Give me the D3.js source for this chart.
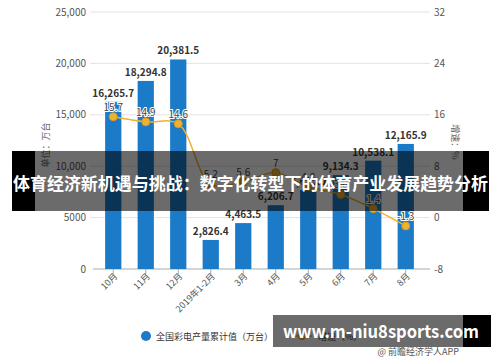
<!DOCTYPE html>
<html>
<head>
<meta charset="utf-8">
<script src="https://cdn.jsdelivr.net/npm/d3@7"></script>
<style>
  body { margin: 0; background: #fff; }
  text { font-family: "Noto Sans CJK SC", "Noto Sans", sans-serif; }
</style>
</head>
<body>
<div id="chart"></div>
<script>
// data
const months = ["10月", "11月", "12月", "2019年1-2月", "3月", "4月", "5月", "6月", "7月", "8月"]
const output = [16265.7, 18294.8, 20381.5, 2826.4, 4463.5, 6206.7, 7690.0, 9134.3, 10538.1, 12165.9]
const growth = [15.7, 14.9, 14.6, 5.2, 5.6, 7, 4.8, 3.6, 1.4, -1.3]
const leftTicks = [0, 5000, 10000, 15000, 20000, 25000]
const rightTicks = [-8, 0, 8, 16, 24, 32]
const leftTickLabels = ["0", "5000", "10,000", "15,000", "20,000", "25,000"]

const W = 500, H = 362
const plot = { left: 97, right: 422, top: 12, bottom: 269 }

const svg = d3.select("#chart")
  .append("svg")
    .attr("width", W)
    .attr("height", H)

const x = d3.scaleBand()
  .domain(months)
  .range([plot.left, plot.right])
  .paddingInner(0.5)
  .paddingOuter(0.25)

const yL = d3.scaleLinear().domain([0, 25000]).range([plot.bottom, plot.top])
const yR = d3.scaleLinear().domain([-8, 32]).range([plot.bottom, plot.top])

// grid lines
svg.append("g")
  .selectAll("line")
  .data(leftTicks.slice(1))
  .join("line")
    .attr("x1", 90).attr("x2", 430)
    .attr("y1", d => yL(d)).attr("y2", d => yL(d))
    .attr("stroke", "#e3e3e3")

// left labels
svg.append("g")
  .selectAll("text")
  .data(leftTicks)
  .join("text")
    .attr("x", 86)
    .attr("y", d => yL(d) + 3.5)
    .attr("text-anchor", "end")
    .attr("font-size", 10)
    .attr("fill", "#555")
    .text((d, i) => leftTickLabels[i])

// right labels
svg.append("g")
  .selectAll("text")
  .data(rightTicks)
  .join("text")
    .attr("x", 434)
    .attr("y", d => yR(d) + 3.5)
    .attr("font-size", 10)
    .attr("fill", "#555")
    .text(d => d)

// x axis
const xAxis = svg.append("g")
  .attr("transform", `translate(0,${plot.bottom})`)
  .call(d3.axisBottom(x).tickSize(5).tickSizeOuter(0))
xAxis.select(".domain").attr("stroke", "#aaa").attr("d", `M${plot.left - 4},0H430`)
xAxis.selectAll(".tick line").attr("stroke", "#aaa")
xAxis.selectAll("text")
  .attr("font-size", 9)
  .attr("fill", "#555")
  .attr("font-family", "Noto Sans CJK SC")
  .attr("dy", 0)
  .attr("x", -2)
  .attr("y", 9)
  .attr("transform", "rotate(-45)")
  .style("text-anchor", "end")

// axis titles
svg.append("text")
  .attr("transform", "translate(49,145) rotate(-90)")
  .attr("text-anchor", "middle")
  .attr("font-size", 9)
  .attr("fill", "#666")
  .text("单位：万台")
svg.append("text")
  .attr("transform", "translate(452,142) rotate(90)")
  .attr("text-anchor", "middle")
  .attr("font-size", 9)
  .attr("fill", "#666")
  .text("增速：%")

// bars
svg.append("g")
  .selectAll("rect")
  .data(output)
  .join("rect")
    .attr("x", (d, i) => x(months[i]))
    .attr("y", d => yL(d))
    .attr("width", x.bandwidth())
    .attr("height", d => plot.bottom - yL(d))
    .attr("fill", "#1b7bc8")

svg.append("g")
  .selectAll("text")
  .data(output)
  .join("text")
    .attr("x", (d, i) => x(months[i]) + x.bandwidth() / 2)
    .attr("y", d => yL(d) - 5)
    .attr("text-anchor", "middle")
    .attr("font-size", 10)
    .attr("font-weight", "bold")
    .attr("fill", "#333")
    .text(d => d3.format(",.1f")(d))

// growth line
const line = d3.line()
  .x((d, i) => x(months[i]) + x.bandwidth() / 2)
  .y(d => yR(d))
  .curve(d3.curveCatmullRom.alpha(0.5))

svg.append("path")
  .datum(growth)
  .attr("d", line)
  .attr("fill", "none")
  .attr("stroke", "#f0b030")
  .attr("stroke-width", 1.5)

svg.append("g")
  .selectAll("circle")
  .data(growth)
  .join("circle")
    .attr("cx", (d, i) => x(months[i]) + x.bandwidth() / 2)
    .attr("cy", d => yR(d))
    .attr("r", 4)
    .attr("fill", "#f0b030")
    .attr("stroke", "#d99a1a")

svg.append("g")
  .selectAll("text")
  .data(growth)
  .join("text")
    .attr("x", (d, i) => x(months[i]) + x.bandwidth() / 2)
    .attr("y", d => yR(d) - 6)
    .attr("text-anchor", "middle")
    .attr("font-size", 10)
    .attr("fill", "#444")
    .attr("stroke", "#fff")
    .attr("stroke-width", 2)
    .attr("paint-order", "stroke")
    .text(d => d)

// legend
const legend = svg.append("g")
legend.append("circle").attr("cx", 146).attr("cy", 336).attr("r", 5).attr("fill", "#1b7bc8")
legend.append("text").attr("x", 156).attr("y", 339.5).attr("font-size", 9).attr("fill", "#333")
  .text("全国彩电产量累计值（万台）")
legend.append("line").attr("x1", 292).attr("x2", 312).attr("y1", 336).attr("y2", 336)
  .attr("stroke", "#f0b030").attr("stroke-width", 1.5)
legend.append("circle").attr("cx", 302).attr("cy", 336).attr("r", 4).attr("fill", "#f0b030")
legend.append("text").attr("x", 318).attr("y", 339.5).attr("font-size", 9).attr("fill", "#333")
  .text("增速（%）")

// source note
svg.append("text")
  .attr("x", 459).attr("y", 355)
  .attr("text-anchor", "end")
  .attr("font-size", 9)
  .attr("fill", "#555")
  .text("@ 前瞻经济学人APP")

// title banner across the middle
svg.append("rect").attr("x", 12).attr("y", 151).attr("width", 23).attr("height", 60).attr("fill", "#000")
svg.append("rect").attr("x", 463).attr("y", 151).attr("width", 26).attr("height", 60).attr("fill", "#000")
svg.append("rect").attr("x", 35).attr("y", 151).attr("width", 428).attr("height", 60)
  .attr("fill", "#000").attr("opacity", 0.58)
svg.append("text")
  .attr("x", 13).attr("y", 190)
  .attr("font-size", 17)
  .attr("font-weight", "bold")
  .attr("fill", "#fff")
  .attr("textLength", 475)
  .attr("lengthAdjust", "spacingAndGlyphs")
  .text("体育经济新机遇与挑战：数字化转型下的体育产业发展趋势分析")

// site banner at the bottom
svg.append("rect").attr("x", 273).attr("y", 315).attr("width", 190).attr("height", 32)
  .attr("fill", "#000").attr("opacity", 0.58)
svg.append("rect").attr("x", 463).attr("y", 315).attr("width", 28).attr("height", 32).attr("fill", "#000")
svg.append("text")
  .attr("x", 283).attr("y", 338)
  .attr("font-family", "DejaVu Sans")
  .attr("font-size", 18)
  .attr("font-weight", "bold")
  .attr("fill", "#fff")
  .attr("textLength", 196)
  .attr("lengthAdjust", "spacingAndGlyphs")
  .text("www.m-niu8sports.com")
</script>
</body>
</html>
